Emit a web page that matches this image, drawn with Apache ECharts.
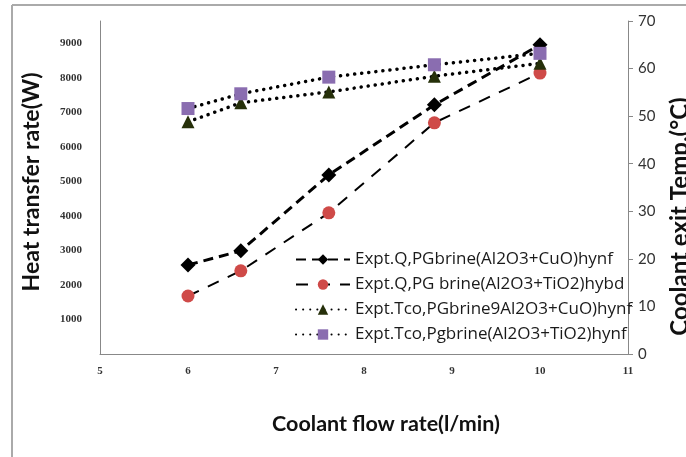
<!DOCTYPE html>
<html>
<head>
<meta charset="utf-8">
<script src="https://cdn.jsdelivr.net/npm/echarts@6/dist/echarts.min.js"></script>
<style>html,body{margin:0;padding:0;background:#fff}#c{width:686px;height:457px}</style>
</head>
<body>
<div id="c"></div>
<script>
// Data
const flowRate = [6, 6.6, 7.6, 8.8, 10];
const qCuO = [2580, 2990, 5190, 7220, 8960];
const qTiO2 = [1680, 2410, 4090, 6700, 8140];
const tcoCuO = [48.8, 52.8, 55.1, 58.4, 61.1];
const tcoTiO2 = [51.6, 54.7, 58.2, 60.8, 63.2];
const seriesNames = [
  'Expt.Q,PGbrine(Al2O3+CuO)hynf',
  'Expt.Q,PG brine(Al2O3+TiO2)hybd',
  'Expt.Tco,PGbrine9Al2O3+CuO)hynf',
  'Expt.Tco,Pgbrine(Al2O3+TiO2)hynf'
];
const leftTicks = [1000, 2000, 3000, 4000, 5000, 6000, 7000, 8000, 9000];

const pairs = (xs, ys) => xs.map((x, i) => [x, ys[i]]);
const chart = echarts.init(document.getElementById('c'));
const sans = 'Lato';
const serifLbl = {fontFamily: 'Liberation Serif', fontWeight: 'bold', fontSize: 11, color: '#333', formatter: v => String(v)};

chart.setOption({
  animation: false,
  backgroundColor: '#fff',
  grid: {left: 100, right: 58, top: 21, bottom: 103, outerBoundsMode: 'none', containLabel: false},
  graphic: [
    {type: 'line', shape: {x1: 12, y1: 5, x2: 686, y2: 5}, style: {stroke: '#aaa', lineWidth: 2}},
    {type: 'line', shape: {x1: 12, y1: 5, x2: 12, y2: 457}, style: {stroke: '#aaa', lineWidth: 2}}
  ],
  legend: {
    orient: 'vertical', left: 290, top: 246, itemWidth: 54, itemHeight: 13, itemGap: 8,
    textStyle: {fontFamily: 'Open Sans', fontSize: 17, color: '#1a1a1a'},
    data: seriesNames
  },
  xAxis: {
    type: 'value', min: 5, max: 11, interval: 1,
    name: 'Coolant flow rate(l/min)', nameLocation: 'middle', nameGap: 59,
    nameTextStyle: {fontFamily: sans, fontWeight: 'bold', fontSize: 21.5, color: '#111', padding: [0, 0, 0, 44]},
    axisLine: {lineStyle: {color: '#888'}},
    axisTick: {show: false},
    splitLine: {show: false},
    axisLabel: Object.assign({margin: 12}, serifLbl)
  },
  yAxis: [
    {
      type: 'value', min: 0, max: 9650, position: 'left',
      name: 'Heat transfer rate(W)', nameLocation: 'middle', nameGap: 57, nameRotate: 90,
      nameTextStyle: {fontFamily: sans, fontWeight: 'bold', fontSize: 23, color: '#111', padding: [0, 0, 0, 11]},
      axisLine: {show: true, lineStyle: {color: '#888'}},
      axisTick: {show: false},
      splitLine: {show: false},
      axisLabel: Object.assign({customValues: leftTicks, margin: 18}, serifLbl)
    },
    {
      type: 'value', min: 0, max: 70, interval: 10, position: 'right',
      name: 'Coolant exit Temp.(°C)', nameLocation: 'middle', nameGap: 40, nameRotate: 90,
      nameTextStyle: {fontFamily: sans, fontWeight: 'bold', fontSize: 24, color: '#111', padding: [0, 58, 0, 0]},
      axisLine: {show: true, lineStyle: {color: '#888'}},
      axisTick: {show: true, inside: false, length: 5, lineStyle: {color: '#888'}},
      splitLine: {show: false},
      axisLabel: {fontFamily: sans, fontSize: 15, color: '#333', margin: 10}
    }
  ],
  series: [
    {
      name: seriesNames[0], type: 'line', yAxisIndex: 0, data: pairs(flowRate, qCuO),
      symbol: 'diamond', symbolSize: 15,
      itemStyle: {color: '#000'},
      lineStyle: {color: '#000', width: 3, type: [10, 6]}
    },
    {
      name: seriesNames[1], type: 'line', yAxisIndex: 0, data: pairs(flowRate, qTiO2),
      symbol: 'circle', symbolSize: 13,
      itemStyle: {color: '#cf4a48'},
      lineStyle: {color: '#000', width: 2, type: [12, 10]}
    },
    {
      name: seriesNames[2], type: 'line', yAxisIndex: 1, data: pairs(flowRate, tcoCuO),
      symbol: 'triangle', symbolSize: 13,
      itemStyle: {color: '#26300a'},
      lineStyle: {color: '#000', width: 3.5, type: [0.1, 7], cap: 'round'}
    },
    {
      name: seriesNames[3], type: 'line', yAxisIndex: 1, data: pairs(flowRate, tcoTiO2),
      symbol: 'rect', symbolSize: 13,
      itemStyle: {color: '#8a6db0'},
      lineStyle: {color: '#000', width: 3.5, type: [0.1, 7], cap: 'round'}
    }
  ]
});
</script>
</body>
</html>
